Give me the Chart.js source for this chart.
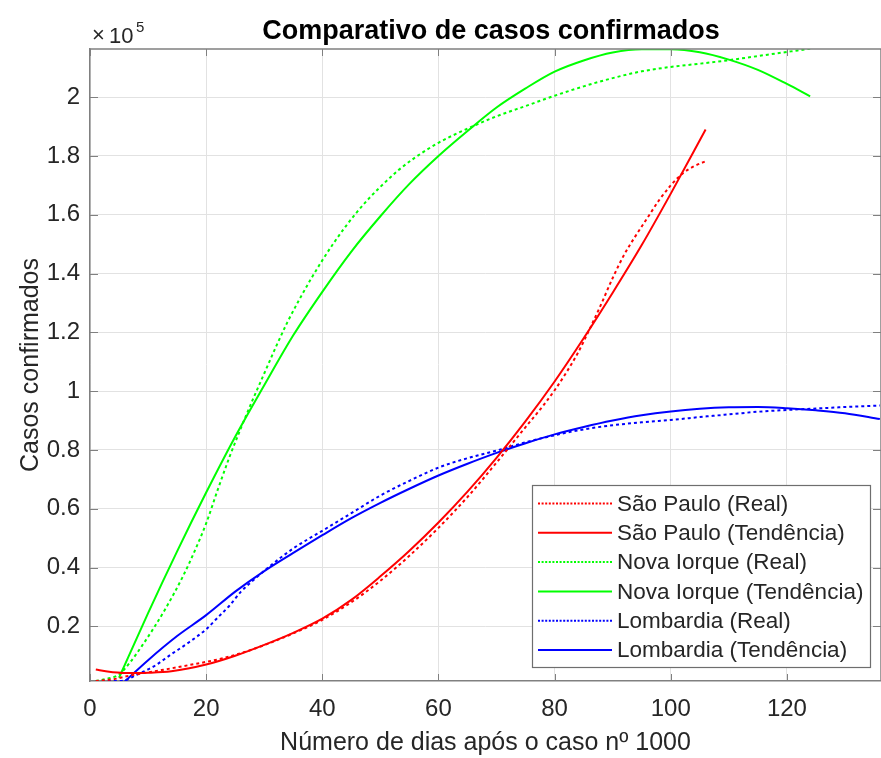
<!DOCTYPE html>
<html>
<head>
<meta charset="utf-8">
<script src="https://cdn.jsdelivr.net/npm/chart.js@4.4.1/dist/chart.umd.min.js"></script>
<style>
  html, body { margin: 0; padding: 0; background: #fff; }
  #wrap { width: 881px; height: 758px; }
</style>
</head>
<body>
<div id="wrap"><canvas id="chart" width="881" height="758"></canvas></div>
<script>
// ticks
const xTicks = [0, 20, 40, 60, 80, 100, 120];
const yTicks = [20000, 40000, 60000, 80000, 100000, 120000, 140000, 160000, 180000, 200000];

// São Paulo
const spRealDays = [1, 4, 7, 11, 14, 17, 20, 23, 27, 30, 35, 40, 45, 50, 55, 60, 65, 70, 75, 78, 80, 82, 84, 86, 88, 90, 92, 94, 96, 98, 100, 102, 104, 106];
const spReal = [1400, 2000, 3300, 4700, 5700, 6800, 7900, 9200, 11500, 13600, 17600, 22200, 28200, 35500, 44000, 53500, 64000, 75700, 87800, 95000, 100300, 106300, 113000, 121000, 129500, 138500, 146500, 153000, 159000, 165000, 170000, 174000, 176500, 178200];
const spTrendDays = [1, 3, 6, 10, 14, 20, 25, 30, 35, 40, 45, 50, 55, 60, 65, 70, 75, 80, 85, 90, 95, 100, 106];
const spTrend = [5300, 4600, 4100, 4200, 4700, 7000, 10000, 13700, 17800, 22600, 29000, 37000, 45700, 55300, 65800, 77300, 89800, 103300, 118000, 133500, 149700, 167200, 189000];

// Nova Iorque
const nyRealDays = [1, 3, 5, 7, 9, 11, 13, 16, 18, 20, 22, 24, 26, 28, 30, 32, 34, 36, 38, 40, 42, 44, 46, 48, 50, 53, 56, 60, 65, 70, 75, 80, 85, 90, 95, 100, 105, 110, 115, 120, 124];
const nyReal = [1400, 2200, 3600, 8000, 13500, 19500, 26000, 37000, 45500, 55000, 66500, 77500, 87500, 97000, 106000, 115000, 123500, 131000, 138000, 144500, 150500, 156000, 161000, 165500, 169500, 175000, 179500, 184500, 189300, 193500, 197000, 200500, 203700, 206500, 208800, 210300, 211400, 212600, 214000, 215400, 216500];
const nyTrendDays = [5, 10, 15, 20, 25, 30, 35, 40, 45, 50, 55, 60, 65, 70, 75, 80, 85, 90, 95, 100, 105, 110, 115, 120, 124];
const nyTrend = [2500, 24500, 45500, 65500, 84500, 102000, 119000, 133800, 147500, 159500, 170500, 180000, 188500, 196500, 203000, 208700, 212500, 215200, 216300, 216300, 215300, 212800, 209300, 204500, 200300];

// Lombardia
const loRealDays = [1, 4, 6, 8, 11, 14, 17, 20, 22, 24, 26, 28, 31, 35, 40, 45, 50, 55, 60, 65, 70, 75, 80, 85, 90, 95, 100, 105, 110, 115, 120, 125, 130, 136];
const loReal = [1400, 1400, 1600, 3500, 6400, 10500, 14500, 19000, 23000, 27000, 31800, 35500, 40500, 46500, 52500, 58500, 64500, 69500, 74000, 77200, 79800, 82600, 85000, 87000, 88400, 89400, 90200, 91200, 92100, 93000, 93600, 94100, 94600, 95100];
const loTrendDays = [6, 10, 15, 20, 25, 30, 35, 40, 45, 50, 55, 60, 65, 70, 75, 80, 85, 90, 95, 100, 105, 110, 115, 120, 125, 130, 136];
const loTrend = [1300, 8500, 16700, 23800, 31800, 38800, 45000, 51000, 56800, 62000, 66800, 71300, 75300, 79000, 82300, 85300, 87800, 90000, 91800, 93100, 94000, 94500, 94600, 94200, 93500, 92500, 90500];

const FONT = '"Liberation Sans", Arial, Helvetica, sans-serif';
const TEXT = '#262626';
const AXIS = '#808080';
const GRID = '#e2e2e2';

function pts(days, vals) {
  return days.map((d, i) => ({ x: d, y: vals[i] }));
}

function series(label, days, vals, color, dotted) {
  return {
    label: label,
    data: pts(days, vals),
    borderColor: color,
    backgroundColor: color,
    borderWidth: 2,
    borderDash: dotted ? [3, 3] : [],
    pointRadius: 0,
    cubicInterpolationMode: 'monotone',
    fill: false,
  };
}

// title, exponent, top border, inward ticks, legend box
const decorations = {
  id: 'decorations',
  afterDraw(chart) {
    const ctx = chart.ctx;
    const a = chart.chartArea;
    const xs = chart.scales.x;
    const ys = chart.scales.y;
    ctx.save();

    ctx.strokeStyle = AXIS;
    ctx.lineWidth = 1.5;
    ctx.beginPath();
    ctx.moveTo(a.left, a.top);
    ctx.lineTo(a.right, a.top);
    ctx.lineTo(a.right, a.bottom);
    ctx.stroke();

    ctx.lineWidth = 1;
    ctx.beginPath();
    xTicks.forEach(v => {
      const px = Math.round(xs.getPixelForValue(v)) + 0.5;
      ctx.moveTo(px, a.bottom); ctx.lineTo(px, a.bottom - 7);
      ctx.moveTo(px, a.top); ctx.lineTo(px, a.top + 7);
    });
    yTicks.forEach(v => {
      const py = Math.round(ys.getPixelForValue(v)) + 0.5;
      ctx.moveTo(a.left, py); ctx.lineTo(a.left + 8, py);
      ctx.moveTo(a.right, py); ctx.lineTo(a.right - 8, py);
    });
    ctx.stroke();

    ctx.fillStyle = '#000';
    ctx.font = 'bold 27px ' + FONT;
    ctx.textAlign = 'center';
    ctx.textBaseline = 'alphabetic';
    ctx.fillText('Comparativo de casos confirmados', 491, 39);

    ctx.fillStyle = TEXT;
    ctx.textAlign = 'left';
    ctx.font = '22px ' + FONT;
    ctx.fillText('\u00d7', 92, 42);
    ctx.fillText('10', 109, 43);
    ctx.font = '15px ' + FONT;
    ctx.fillText('5', 136, 32);

    // legend
    const bx = 532, by = 485, bw = 338, bh = 182;
    ctx.fillStyle = '#fff';
    ctx.fillRect(bx, by, bw, bh);
    ctx.strokeStyle = '#6e6e6e';
    ctx.lineWidth = 1.2;
    ctx.strokeRect(bx + 0.5, by + 0.5, bw, bh);
    ctx.font = '22.5px ' + FONT;
    ctx.textBaseline = 'middle';
    chart.data.datasets.forEach((ds, i) => {
      const ry = 503.5 + i * 29.3;
      ctx.strokeStyle = ds.borderColor;
      ctx.lineWidth = 2;
      ctx.setLineDash(ds.borderDash.length ? [2, 1.6] : []);
      ctx.beginPath();
      ctx.moveTo(538, ry);
      ctx.lineTo(612, ry);
      ctx.stroke();
      ctx.setLineDash([]);
      ctx.fillStyle = TEXT;
      ctx.fillText(ds.label, 617, ry + 1);
    });

    ctx.restore();
  }
};

new Chart(document.getElementById('chart'), {
  type: 'line',
  data: {
    datasets: [
      series('São Paulo (Real)', spRealDays, spReal, '#ff0000', true),
      series('São Paulo (Tendência)', spTrendDays, spTrend, '#ff0000', false),
      series('Nova Iorque (Real)', nyRealDays, nyReal, '#00ff00', true),
      series('Nova Iorque (Tendência)', nyTrendDays, nyTrend, '#00ff00', false),
      series('Lombardia (Real)', loRealDays, loReal, '#0000ff', true),
      series('Lombardia (Tendência)', loTrendDays, loTrend, '#0000ff', false),
    ],
  },
  options: {
    responsive: false,
    animation: false,
    layout: { padding: { top: 49, left: 0, right: 0, bottom: 0 } },
    plugins: {
      legend: { display: false },
      tooltip: { enabled: false },
      title: { display: false },
    },
    scales: {
      x: {
        type: 'linear',
        min: 0,
        max: 136.2,
        afterBuildTicks: (s) => { s.ticks = xTicks.map(v => ({ value: v })); },
        afterFit: (s) => { s.height = 77; },
        grid: { color: GRID, drawTicks: false },
        border: { color: AXIS, width: 1.5 },
        ticks: { padding: 14, color: TEXT, font: { family: FONT, size: 24 } },
        title: {
          display: true,
          text: 'Número de dias após o caso nº 1000',
          color: TEXT,
          font: { family: FONT, size: 25 },
          padding: { top: 0, bottom: 0 },
        },
      },
      y: {
        type: 'linear',
        min: 1400,
        max: 216400,
        afterBuildTicks: (s) => { s.ticks = yTicks.map(v => ({ value: v })); },
        afterFit: (s) => { s.width = 90; },
        grid: { color: GRID, drawTicks: false },
        border: { color: AXIS, width: 1.5 },
        ticks: {
          padding: 10,
          color: TEXT,
          font: { family: FONT, size: 24 },
          callback: (v) => String(Math.round(v / 10000) / 10),
        },
        title: {
          display: true,
          text: 'Casos confirmados',
          color: TEXT,
          font: { family: FONT, size: 25 },
          padding: { top: 16, bottom: 0 },
        },
      },
    },
  },
  plugins: [decorations],
});
</script>
</body>
</html>
